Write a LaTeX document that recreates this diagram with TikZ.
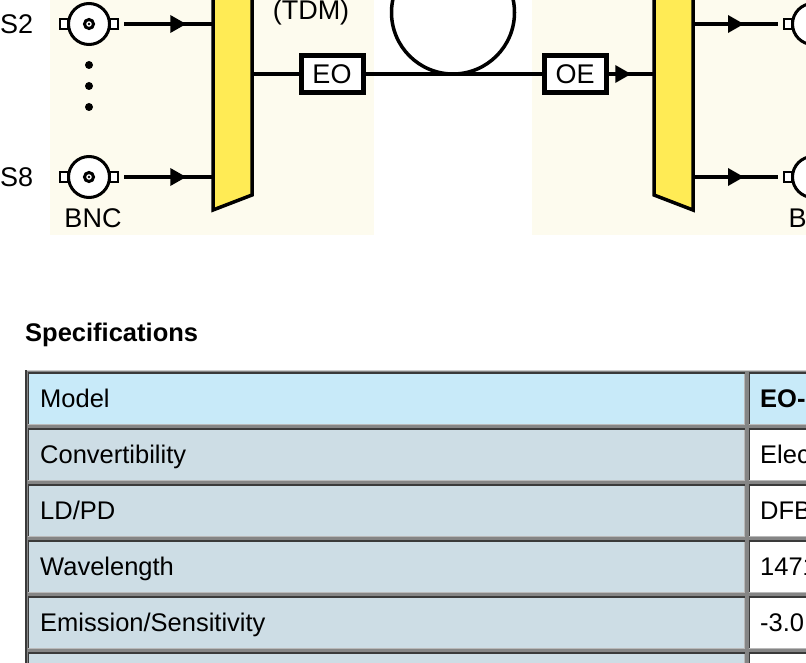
\documentclass[tikz,border=0pt]{standalone}
\usepackage{fontspec}
\setmainfont{Liberation Sans}
\usetikzlibrary{positioning, arrows.meta, decorations.markings}
\definecolor{panelcream}{HTML}{FDFBEE}
\definecolor{muxyellow}{HTML}{FFEB55}
\definecolor{headblue}{HTML}{C8EAF9}
\definecolor{cellblue}{HTML}{CDDDE5}
\definecolor{gapgray}{HTML}{858585}
\definecolor{edgedark}{HTML}{3A3A3A}
\newcommand{\diafont}{\fontsize{27}{30}\selectfont}
\newcommand{\tblfont}{\fontsize{25.5}{30}\selectfont}
\tikzset {
    x=1pt, y=-1pt,
    >={Triangle[length=16pt, width=17pt]},
    wire/.style={line width=3.5pt},
    midarrow/.style={decoration={markings, mark=at position #1 with {\arrow{>}}}, postaction={decorate}},
    muxbody/.style={draw, fill=muxyellow, line width=3.5pt, line join=miter},
    convbox/.style={draw, line width=5pt, fill=white, minimum width=62pt, minimum height=37pt, inner sep=0pt, font=\diafont},
    fiberloop/.style={circle, draw, line width=3.5pt, minimum size=123pt, inner sep=0pt},
    lbl/.style={inner sep=0pt, font=\diafont},
    celltext/.style={anchor=base west, inner sep=0pt, font=\tblfont},
    pics/bnc/.style={code={
        \draw[line width=2.5pt, fill=white] (-29,-5) rectangle (-21,5);
        \draw[line width=2.5pt, fill=white] (21,-5) rectangle (29,5);
        \node[circle, draw, line width=3pt, fill=white, minimum size=41pt, inner sep=0pt] (-body) {};
        \draw[line width=3pt] (0,0) circle (4.5);
        \fill (0,0) circle (1.4);
        \coordinate (-in) at (-35,0);
        \coordinate (-out) at (35,0);
    }}
}

\begin{document}
\begin{tikzpicture}
    \useasboundingbox (0,0) rectangle (806,663);
    \clip (0,0) rectangle (806,663);
    \fill[white] (0,0) rectangle (806,663);

    % panels
    \fill[panelcream] (50,-5) rectangle (374,235);
    \fill[panelcream] (532,-5) rectangle (810,235);

    % mux and demux
    \draw[muxbody] (213,-10) -- (213,210) -- (252,195) -- (252,-10) -- cycle;
    \draw[muxbody] (654,-10) -- (654,195) -- (693,210) -- (693,-10) -- cycle;
    \coordinate (mux-s2) at (213,24);
    \coordinate (mux-s8) at (213,177);
    \coordinate (mux-out) at (252,74);
    \coordinate (demux-in) at (654,74);
    \coordinate (demux-r2) at (693,24);
    \coordinate (demux-r8) at (693,177);

    % connectors
    \pic (s2) at (89,24) {bnc};
    \pic (s8) at (89,177) {bnc};
    \pic (r2) at (813,24) {bnc};
    \pic (r8) at (813,177) {bnc};
    \foreach \yy in {65,86,107}
        \fill (89,\yy) circle (4);

    \node[convbox] (eo) at (332,74) {EO};
    \node[convbox] (oe) at (575,74) {OE};
    \node[fiberloop] (loop) at (453,12.5) {};

    \draw[wire, midarrow=0.7] (s2-out) -- (mux-s2);
    \draw[wire, midarrow=0.7] (s8-out) -- (mux-s8);
    \draw[wire] (mux-out) -- (eo) -- (oe);
    \draw[wire, midarrow=0.5] (oe) -- (demux-in);
    \draw[wire, midarrow=0.6] (demux-r2) -- (r2-in);
    \draw[wire, midarrow=0.6] (demux-r8) -- (r8-in);

    \node[lbl, anchor=west] (s2lbl) at (0,24) {S2};
    \node[lbl, anchor=west] (s8lbl) at (0,177) {S8};
    \node[lbl] (tdm) at (311,13) {(TDM)};
    \node[lbl, below=9pt of s8-body, xshift=4pt] (bncl) {BNC};
    \node[lbl, below=9pt of r8-body, xshift=4pt] (bncr) {BNC};

    % specifications table
    \node[anchor=base west, inner sep=0pt, font=\tblfont\bfseries] (spec) at (25,341) {Specifications};
    \fill[gapgray] (25,370) rectangle (810,670);
    \draw[gray!40, line width=1pt] (25,370.5) -- (810,370.5);
    \draw[edgedark, line width=2pt] (26,370) -- (26,670);
    \foreach \name/\val/\lfill/\rfill [count=\i from 0] in {
        Model/\textbf{EO-}/headblue/headblue,
        Convertibility/Elec/cellblue/white,
        {LD/PD}/DFB/cellblue/white,
        Wavelength/1471/cellblue/white,
        {Emission/Sensitivity}/-3.0/cellblue/white,
        {}/{}/cellblue/white}
    {
        \pgfmathsetmacro{\ytop}{372+56*\i}
        \fill[\lfill] (27.5,\ytop) rectangle (744.5,\ytop+53);
        \fill[\rfill] (748.5,\ytop) rectangle (812,\ytop+53);
        \draw[edgedark, line width=1.5pt] (28.25,\ytop+53) -- (28.25,\ytop+0.75) -- (744.5,\ytop+0.75);
        \draw[edgedark, line width=1.5pt] (749.25,\ytop+53) -- (749.25,\ytop+0.75) -- (812,\ytop+0.75);
        \draw[gray!55, line width=1pt] (27.5,\ytop+52.5) -- (744,\ytop+52.5) -- (744,\ytop+1.5);
        \draw[gray!55, line width=1pt] (748.5,\ytop+52.5) -- (812,\ytop+52.5);
        \node[celltext] at (40,\ytop+35.5) {\name};
        \node[celltext] at (760,\ytop+35.5) {\val};
    }
\end{tikzpicture}
\end{document}
